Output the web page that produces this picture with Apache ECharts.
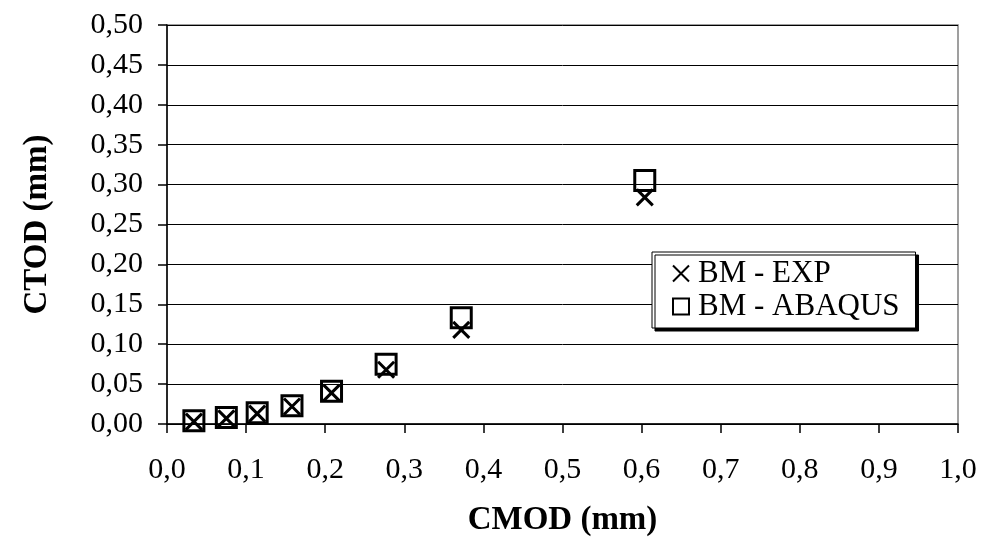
<!DOCTYPE html>
<html>
<head>
<meta charset="utf-8">
<script src="https://cdn.jsdelivr.net/npm/echarts@6/dist/echarts.min.js"></script>
<style>
html,body{margin:0;padding:0;background:#fff;}
#c{width:982px;height:538px;}
</style>
</head>
<body>
<div id="c"></div>
<script>
// Data
const cmodValues = [0.034, 0.075, 0.114, 0.158, 0.208, 0.277, 0.372, 0.604];
const expValues = [0.003, 0.007, 0.013, 0.022, 0.039, 0.068, 0.118, 0.284];
const abaqusValues = [0.004, 0.008, 0.014, 0.023, 0.041, 0.075, 0.133, 0.305];
const seriesNames = ['BM - EXP', 'BM - ABAQUS'];
const xAxisTitle = 'CMOD (mm)';
const yAxisTitle = 'CTOD (mm)';

const FONT = '"Liberation Serif", "Times New Roman", serif';
const crossPath = 'path://M0,0L10,10M10,0L0,10';

const chart = echarts.init(document.getElementById('c'), null, {renderer: 'canvas'});
chart.setOption({
  backgroundColor: '#fff',
  animation: false,
  grid: {left: 167, right: 24, top: 25, bottom: 114, show: true, borderColor: '#808080', borderWidth: 1.5,
         containLabel: false, outerBoundsMode: 'none'},
  legend: {
    orient: 'vertical', left: 652, top: 252,
    backgroundColor: '#fff', borderColor: '#000', borderWidth: 1,
    shadowColor: '#000', shadowBlur: 0, shadowOffsetX: 3, shadowOffsetY: 3,
    padding: [6, 16, 6, 20], itemGap: 2, itemWidth: 16, itemHeight: 16,
    textStyle: {fontFamily: FONT, fontSize: 31, color: '#000', lineHeight: 30, padding: [0, 0, 0, 4]},
    data: [
      {name: seriesNames[0], icon: crossPath, itemStyle: {color: 'transparent', borderColor: '#000', borderWidth: 2, opacity: 1}},
      {name: seriesNames[1], icon: 'rect', itemStyle: {color: '#fff', borderColor: '#000', borderWidth: 2, opacity: 1}}
    ]
  },
  xAxis: {
    type: 'value', min: 0, max: 1, interval: 0.1,
    name: xAxisTitle, nameLocation: 'middle', nameGap: 80,
    nameTextStyle: {fontFamily: FONT, fontSize: 33, fontWeight: 'bold', color: '#000'},
    axisLine: {show: true, onZero: false, lineStyle: {color: '#000', width: 1.5}},
    axisTick: {show: true, inside: false, length: 9, lineStyle: {color: '#000', width: 1.5}},
    axisLabel: {margin: 31, fontFamily: FONT, fontSize: 30, color: '#000',
      formatter: v => v.toFixed(1).replace('.', ',')},
    splitLine: {show: false}
  },
  yAxis: {
    type: 'value', min: 0, max: 0.5, interval: 0.05,
    name: yAxisTitle, nameLocation: 'middle', nameGap: 113, nameRotate: 90,
    nameTextStyle: {fontFamily: FONT, fontSize: 33, fontWeight: 'bold', color: '#000'},
    axisLine: {show: true, lineStyle: {color: '#000', width: 1.5}},
    axisTick: {show: true, inside: false, length: 9, lineStyle: {color: '#000', width: 1.5}},
    axisLabel: {margin: 24, fontFamily: FONT, fontSize: 30, color: '#000',
      formatter: v => v.toFixed(2).replace('.', ',')},
    splitLine: {show: true, lineStyle: {color: '#000', width: 1}}
  },
  series: [
    {
      name: seriesNames[0], type: 'scatter',
      data: cmodValues.map((x, i) => [x, expValues[i]]),
      symbol: crossPath, symbolSize: 16,
      itemStyle: {color: 'transparent', borderColor: '#000', borderWidth: 3, opacity: 1},
      z: 3
    },
    {
      name: seriesNames[1], type: 'scatter',
      data: cmodValues.map((x, i) => [x, abaqusValues[i]]),
      symbol: 'rect', symbolSize: 20,
      itemStyle: {color: 'transparent', borderColor: '#000', borderWidth: 3, opacity: 1},
      z: 4
    }
  ]
});
</script>
</body>
</html>
